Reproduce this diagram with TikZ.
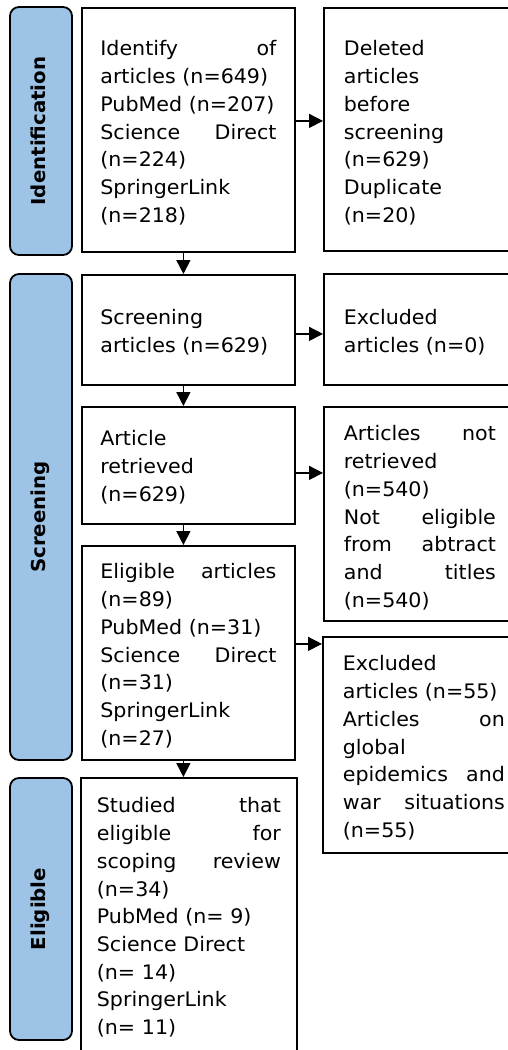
\documentclass[tikz,border=0pt]{standalone}
\usepackage{fontspec}
\setmainfont{DejaVu Sans}[FakeStretch=1.03]
\usepackage{xcolor}
\usetikzlibrary{arrows.meta,positioning,calc}
\definecolor{barblue}{RGB}{157,195,230}

\begin{document}
\begin{tikzpicture}[x=1pt,y=-1pt,
	phase/.style={draw,line width=1.8pt,rounded corners=9pt,fill=barblue,rotate=90,inner sep=0pt,minimum height=62pt,text height=14pt,text depth=6pt,font=\fontsize{19.2}{22}\selectfont\bfseries},
	stepbox/.style={draw,line width=1.8pt,anchor=north west,inner sep=0pt,align=left,font=\fontsize{20}{27.7}\selectfont},
	flow/.style={line width=1.5pt,-{Triangle[length=14pt,width=14pt]}}]
	\useasboundingbox (0,0) rectangle (508,1050);
	\node[phase,minimum width=248pt] (idbar) at (41,131) {Identification};
	\node[phase,minimum width=486pt] (scrbar) at (41,517) {Screening};
	\node[phase,minimum width=262pt] (eligbar) at (41,909) {Eligible};
	\node[stepbox,minimum width=213pt,text width=176pt,text height=48pt,text depth=196pt] (idbox) at (81,7) {Identify\hfill of\\articles (n=649)\\PubMed (n=207)\\Science\hfill Direct\\(n=224)\\SpringerLink\\(n=218)};
	\node[stepbox,minimum width=213pt,text width=176pt,text height=50pt,text depth=60pt] (scrbox) at (81,274) {Screening\\articles (n=629)};
	\node[stepbox,minimum width=213pt,text width=176pt,text height=39pt,text depth=78pt] (retbox) at (81,406) {Article\\retrieved\\(n=629)};
	\node[stepbox,minimum width=213pt,text width=176pt,text height=33pt,text depth=181pt] (eligbox) at (81,545) {Eligible\hfill articles\\(n=89)\\PubMed (n=31)\\Science\hfill Direct\\(n=31)\\SpringerLink\\(n=27)};
	\node[stepbox,minimum width=216pt,text width=184pt,text height=35pt,text depth=258pt] (incbox) at (80,777) {Studied\hfill that\\eligible\hfill for\\scoping\hfill review\\(n=34)\\PubMed (n= 9)\\Science Direct\\(n= 14)\\SpringerLink\\(n= 11)};
	\node[stepbox,minimum width=192pt,text width=152pt,text height=48pt,text depth=195pt] (delbox) at (323,7) {Deleted\\articles\\before\\screening\\(n=629)\\Duplicate\\(n=20)};
	\node[stepbox,minimum width=192pt,text width=152pt,text height=51pt,text depth=60pt] (exbox) at (323,273) {Excluded\\articles (n=0)};
	\node[stepbox,minimum width=192pt,text width=152pt,text height=34pt,text depth=180pt] (nrbox) at (323,406) {Articles\hfill not\\retrieved\\(n=540)\\Not\hfill eligible\\from\hfill abtract\\and\hfill titles\\(n=540)};
	\node[stepbox,minimum width=202pt,text width=162pt,text height=34pt,text depth=182pt] (exbbox) at (322,636) {Excluded\\articles (n=55)\\Articles\hfill on\\global\\epidemics\hfill and\\war\hfill situations\\(n=55)};
	\draw[flow] ([xshift=-5pt]idbox.south) -- ([xshift=-5pt]idbox.south |- scrbox.north);
	\draw[flow] ([xshift=-5pt]scrbox.south) -- ([xshift=-5pt]scrbox.south |- retbox.north);
	\draw[flow] ([xshift=-5pt]retbox.south) -- ([xshift=-5pt]retbox.south |- eligbox.north);
	\draw[flow] ([xshift=-5pt]eligbox.south) -- ([xshift=-5pt]eligbox.south |- incbox.north);
	\draw[flow] ([yshift=9pt]idbox.east) -- ([yshift=9pt]idbox.east -| delbox.west);
	\draw[flow] ([yshift=-4pt]scrbox.east) -- ([yshift=-4pt]scrbox.east -| exbox.west);
	\draw[flow] ([yshift=-7.5pt]retbox.east) -- ([yshift=-7.5pt]retbox.east -| nrbox.west);
	\draw[flow] ([yshift=9pt]eligbox.east) -- ([yshift=9pt]eligbox.east -| exbbox.west);
\end{tikzpicture}
\end{document}
